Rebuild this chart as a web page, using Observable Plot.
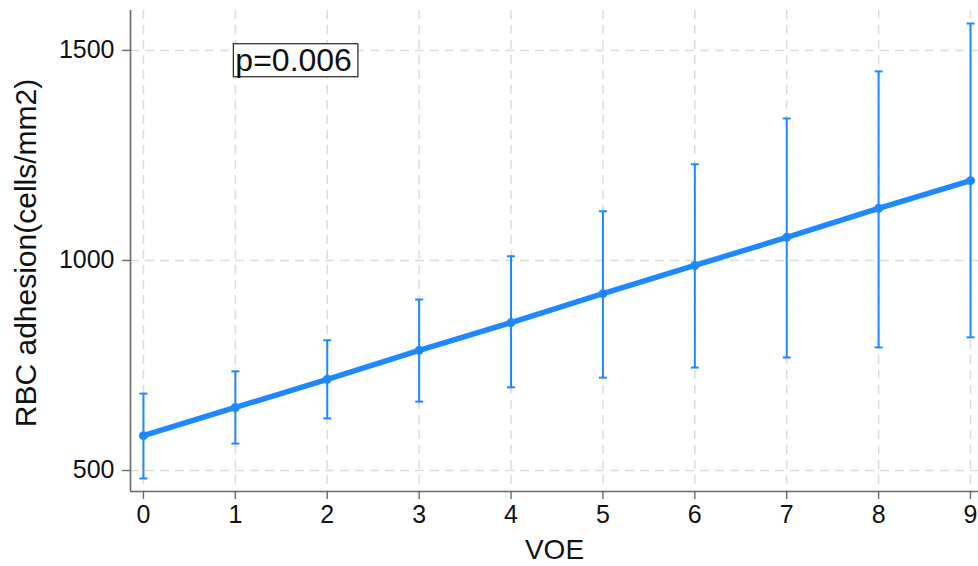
<!DOCTYPE html>
<html>
<head>
<meta charset="utf-8">
<script src="https://cdn.jsdelivr.net/npm/d3@7"></script>
<script src="https://cdn.jsdelivr.net/npm/@observablehq/plot@0.6"></script>
<style>
  html, body { margin: 0; padding: 0; background: #fff; }
  #chart svg { display: block; }
</style>
</head>
<body>
<div id="chart"></div>
<script>
// ---- data ----
const voe   = [0, 1, 2, 3, 4, 5, 6, 7, 8, 9];
const mean  = [583, 650, 717, 786, 852, 921, 988, 1055, 1124, 1190];
const lower = [481, 564, 624, 664, 698, 721, 745, 769, 793, 817];
const upper = [683, 736, 810, 907, 1010, 1117, 1229, 1338, 1450, 1564];

const xTicks = [0, 1, 2, 3, 4, 5, 6, 7, 8, 9];
const yTicks = [500, 1000, 1500];
const xDomain = [-0.141, 9.087];
const yDomain = [450, 1595];

const xLabel = "VOE";
const yLabel = "RBC adhesion(cells/mm2)";
const annText = ["p=0.006"];
const annX = [1];
const annY = [1476];

const data = voe.map((v, i) => ({ x: v, y: mean[i], lo: lower[i], hi: upper[i] }));
const ann = annText.map((t, i) => ({ text: t, x: annX[i], y: annY[i] }));

const blue = "#1f88ff";
const font = "Liberation Sans, Arial, Helvetica, sans-serif";

const capSymbol = {
  draw(ctx) { ctx.moveTo(-4, 0); ctx.lineTo(4, 0); }
};

const chart = Plot.plot({
  width: 978,
  height: 566,
  marginLeft: 130,
  marginRight: 0,
  marginTop: 10,
  marginBottom: 75,
  style: { fontFamily: font, background: "#fff", color: "#111" },
  x: { domain: xDomain },
  y: { domain: yDomain },
  marks: [
    Plot.gridX(xTicks, { stroke: "#dcdcdc", strokeOpacity: 1, strokeWidth: 1.5, strokeDasharray: "9,6" }),
    Plot.gridY(yTicks, { stroke: "#dcdcdc", strokeOpacity: 1, strokeWidth: 1.5, strokeDasharray: "9,6" }),
    Plot.ruleX(data, { x: "x", y1: "lo", y2: "hi", stroke: blue, strokeWidth: 2 }),
    Plot.dot(data, { x: "x", y: "hi", symbol: capSymbol, stroke: blue, strokeWidth: 2, fill: "none" }),
    Plot.dot(data, { x: "x", y: "lo", symbol: capSymbol, stroke: blue, strokeWidth: 2, fill: "none" }),
    Plot.line(data, { x: "x", y: "y", stroke: blue, strokeWidth: 5.5, strokeLinecap: "round" }),
    Plot.dot(data, { x: "x", y: "y", r: 4.5, fill: blue }),
    Plot.ruleY([yDomain[0]], { stroke: "#6a6a6a", strokeWidth: 1.6 }),
    Plot.ruleX([xDomain[0]], { stroke: "#6a6a6a", strokeWidth: 1.6 }),
    Plot.axisX(xTicks, { tickSize: 8, tickPadding: 6, fontSize: 25, stroke: "#6a6a6a", strokeWidth: 1.4, label: null, fill: "#111", tickFormat: d => String(d) }),
    Plot.axisY(yTicks, { tickSize: 8, tickPadding: 8, fontSize: 25, stroke: "#6a6a6a", strokeWidth: 1.4, label: null, fill: "#111", tickFormat: d => String(d) }),
    Plot.text([xLabel], { text: d => d, frameAnchor: "bottom", dy: 59, fontSize: 28, fill: "#111", lineAnchor: "middle", textAnchor: "middle" }),
    Plot.text([yLabel], { text: d => d, frameAnchor: "left", dx: -104, dy: 2, rotate: -90, fontSize: 30, fill: "#111", lineAnchor: "middle", textAnchor: "middle" }),
    Plot.text(ann, { x: "x", y: "y", text: "text", textAnchor: "start", lineAnchor: "middle", fontSize: 32, fill: "#111", className: "pbox" })
  ]
});

document.getElementById("chart").appendChild(chart);

// frame box around the p-value annotation
const svgNS = "http://www.w3.org/2000/svg";
chart.querySelectorAll("g.pbox text").forEach(t => {
  const b = t.getBBox();
  const r = document.createElementNS(svgNS, "rect");
  r.setAttribute("x", b.x - 2);
  r.setAttribute("y", b.y + 2);
  r.setAttribute("width", b.width + 8);
  r.setAttribute("height", b.height - 3);
  r.setAttribute("fill", "#fff");
  r.setAttribute("stroke", "#222");
  r.setAttribute("stroke-width", 1.2);
  const tr = t.getAttribute("transform");
  if (tr) r.setAttribute("transform", tr);
  t.parentNode.insertBefore(r, t);
});
</script>
</body>
</html>
